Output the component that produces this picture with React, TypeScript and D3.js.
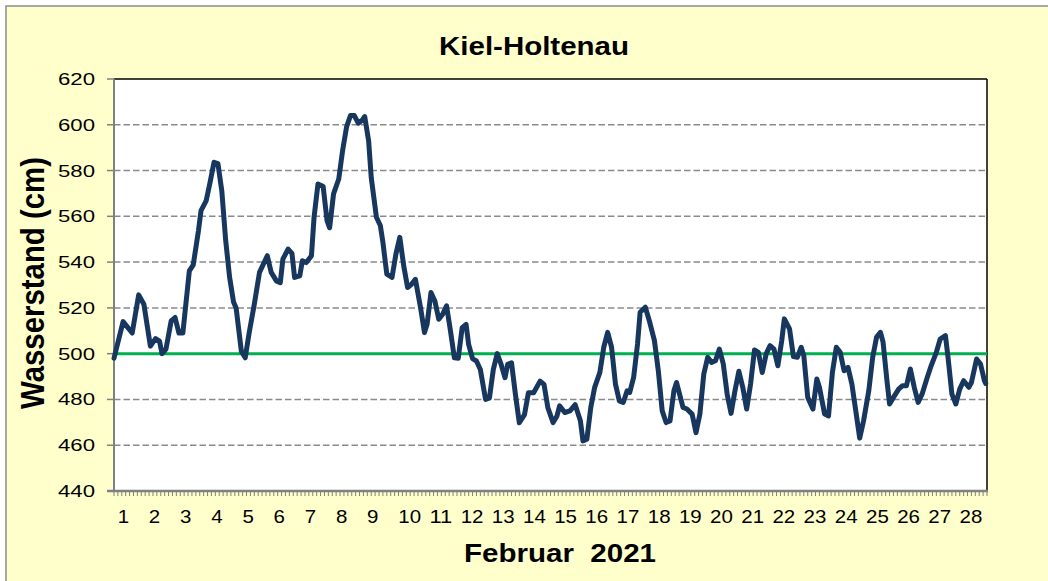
import React from "react";
import * as d3 from "d3";

// Hours since 1 Feb 2021 00:00
const hours = [0,7,14,19,23,28,32,35,37,40,44,47,50,53,58,61,65,67,71,74,77,80,83,86,89,92,94,98,101,104,108,112,118,121,125,128,130,134,137,139,143,145,148,152,154,157,161,164,166,
169,173,176,179,182,185,188,191,193,196,198,202,205,207,210,214,217,220,223,226,229,232,236,239,241,244,247,250,253,256,259,262,265,268,271,273,276,279,282,286,289,292,295,298,301,303,306,309,312,316,319,323,328,331,334,338,
341,343,347,351,355,359,361,364,367,370,374,377,380,383,386,389,392,395,397,400,403,405,409,412,416,419,422,425,428,431,433,436,438,441,445,448,451,454,457,460,463,466,469,472,475,478,481,484,487,490,493,496,499,502,505,
508,511,514,516,520,523,526,529,531,534,538,541,543,547,550,553,556,559,562,565,568,571,574,577,581,584,587,590,592,595,597,600,604,607,610,613,616,619,622,626,629,633,636,640,642,645,648,651,654,658,660,664,667,670,671];
// Water level (cm)
const levels = [498,514,509,525.7,521.6,503.3,506.6,505.5,500,502,514.3,515.8,509,509,536.2,538.8,553.7,562.5,566.9,575,583.6,583,571,549.3,533.3,522.6,520,501.2,498.2,509,521.6,535.5,542.8,535.5,531.8,531,541.3,545.7,543.8,533.3,534,540.6,539.8,542.8,559.6,574.1,573,558.1,555,
569.8,576.3,588.8,599,604,604,600.7,602,603.6,593,577,559.6,556,548.6,534.7,533.3,543.5,550.8,538.4,528.9,530.3,532.5,520,509.2,512.8,526.7,523,515,517.2,520.9,510,498.2,498,511.4,512.8,504,497.8,496.8,493.1,480,480.7,493.1,500,495.3,489.5,495.3,496,482.2,469.8,473.4,482.9,482.9,488,486.6,476.3,469.9,
472.8,477.2,474.3,475,477.7,470.7,461.9,462.6,476.5,485.3,491.8,502.8,509.3,502.8,486.7,479.4,478.7,483.8,483.1,489.6,504.2,518.1,520.3,514.5,505.7,492.5,475,469.9,470.6,483.8,487.4,480.9,476.5,475.8,473.6,465.5,473.6,491.1,498.4,496.2,496.9,502,495.5,482.3,473.9,483.8,492.3,485.3,475.8,486.7,501.6,500.6,491.8,499.9,503.5,
502,494.7,505.7,515.2,510.8,498.7,498.4,502.8,499.1,480.9,475.8,488.9,485.3,473.6,472.8,491.8,502.8,500.6,492.5,494,486.7,475,463.1,470.7,483.8,498.4,507.2,509.3,505,488.2,478,480.9,484.5,486,486,493.3,485.3,478.7,482.3,489.6,494.7,500.6,506.4,507.9,498.4,482.3,478,484.5,488.2,485.3,487.4,497.7,495.5,488.2,487];

const dayLabels = d3.range(1, 29).map(String);
const yTicks = [440, 460, 480, 500, 520, 540, 560, 580, 600, 620];
const reference = 500;
const title = "Kiel-Holtenau";
const xTitle = "Februar  2021";
const yTitle = "Wasserstand (cm)";

const W = 1048, H = 581;
const L = 114, R = 987, T = 79, B = 491;

export default function App() {
  const x = d3.scaleLinear().domain([0, 28 * 24]).range([L, R]);
  const y = d3.scaleLinear().domain([440, 620]).range([B, T]);
  const pts = hours.map((h, i) => [h, levels[i]] as [number, number]);
  const line = d3.line<[number, number]>().x(d => x(d[0])).y(d => y(d[1]));
  const minor = d3.range(0, 28 * 24 + 1, 3);
  const font = "Liberation Sans, Arial, sans-serif";
  return (
    <svg width={W} height={H} style={{ position: "absolute", left: 0, top: 0, display: "block" }}>
      <rect x={0} y={0} width={W} height={H} fill="#ffffff" />
      <rect x={6} y={6} width={W + 10} height={H + 10} fill="#FFFFCC" stroke="#8c8c8c" strokeWidth={1.5} />
      <rect x={L} y={T} width={R - L} height={B - T} fill="#ffffff" />
      {yTicks.filter(t => t !== 440 && t !== 620).map(t => (
        <line key={t} x1={L} x2={R} y1={y(t)} y2={y(t)} stroke="#8a8a8a" strokeWidth={1.5} strokeDasharray="6.5,3" />
      ))}
      <line x1={L} x2={R} y1={T} y2={T} stroke="#000" strokeWidth={1.5} />
      <line x1={R} x2={R} y1={T} y2={B} stroke="#000" strokeWidth={1.5} />
      <line x1={L} x2={L} y1={T} y2={B + 1} stroke="#808080" strokeWidth={2} />
      {yTicks.map(t => (
        <line key={"yt" + t} x1={L - 7} x2={L} y1={y(t)} y2={y(t)} stroke="#808080" strokeWidth={1.5} />
      ))}
      {minor.map(h => (
        <line key={"m" + h} x1={x(h)} x2={x(h)} y1={B} y2={B + 5} stroke="#808080" strokeWidth={1} />
      ))}
      <line x1={L - 7} x2={R + 1} y1={B} y2={B} stroke="#808080" strokeWidth={2.5} />
      <line x1={L} x2={R} y1={y(reference)} y2={y(reference)} stroke="#00B050" strokeWidth={3} />
      <path d={line(pts) || ""} fill="none" stroke="#17375E" strokeWidth={5} strokeLinejoin="round" strokeLinecap="round" />
      {yTicks.map(t => (
        <text key={"yl" + t} x={95} y={y(t) + 6} textAnchor="end" fontFamily={font} fontSize={16.8}
          textLength={37} lengthAdjust="spacingAndGlyphs">{t}</text>
      ))}
      {dayLabels.map((d, i) => (
        <text key={"xl" + d} x={x(i * 24) + 3.7} y={523} fontFamily={font} fontSize={19}
          textLength={d.length * 11.4} lengthAdjust="spacingAndGlyphs">{d}</text>
      ))}
      <text x={534} y={55} textAnchor="middle" fontFamily={font} fontWeight="bold" fontSize={25}
        textLength={190} lengthAdjust="spacingAndGlyphs">{title}</text>
      <text x={560} y={562} textAnchor="middle" fontFamily={font} fontWeight="bold" fontSize={25}
        textLength={192} lengthAdjust="spacingAndGlyphs" style={{ whiteSpace: "pre" }}>{xTitle}</text>
      <text transform={`translate(44,283) rotate(-90)`} textAnchor="middle" fontFamily={font} fontWeight="bold" fontSize={34}
        textLength={252} lengthAdjust="spacingAndGlyphs">{yTitle}</text>
    </svg>
  );
}
